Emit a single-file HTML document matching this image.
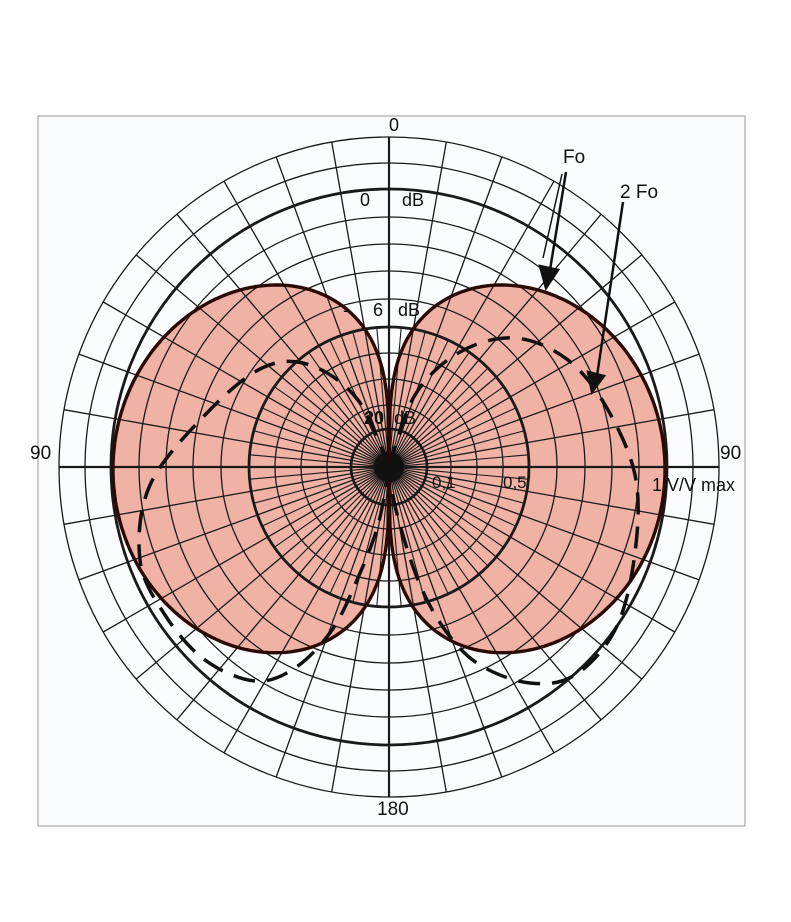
<!DOCTYPE html>
<html><head><meta charset="utf-8"><style>
html,body{margin:0;padding:0;background:#fff;}
svg{display:block;}
text{font-family:"Liberation Sans",sans-serif;fill:#111;}
</style></head><body>
<svg id="s" width="791" height="922" viewBox="0 0 791 922" xmlns="http://www.w3.org/2000/svg">
<rect x="0" y="0" width="791" height="922" fill="#fff"/>
<rect x="38" y="116" width="707" height="710" fill="#fbfcfd" stroke="#999" stroke-width="1"/>
<g id="fill"></g>
<g id="grid" stroke="#1a1a1a" fill="none"></g>
<g id="curves" fill="none"></g>
<g font-size="18">
<text x="389" y="131">0</text>
<text x="360" y="206">0</text><text x="402" y="206">dB</text>
<text x="343" y="316">-</text><text x="373" y="316">6</text><text x="398" y="316">dB</text>
<text x="364" y="424" font-weight="bold">20</text><text x="394" y="424">dB</text>
<text x="30" y="459" font-size="19">90</text>
<text x="720" y="459" font-size="19">90</text>
<text x="432" y="488" font-size="17">0,1</text>
<text x="503" y="488" font-size="17">0,5</text>
<text x="652" y="491" font-size="18">1 V/V max</text>
<text x="377" y="815" font-size="19">180</text>
<text x="563" y="163" font-size="19">Fo</text>
<text x="620" y="198" font-size="19">2 Fo</text>
</g>
<g stroke="#111" stroke-width="2.5" fill="#111">
<line x1="566" y1="172" x2="550" y2="270"/>
<polygon points="540,266 558,270 546,288"/>
<line x1="562" y1="174" x2="543" y2="258" stroke-width="1.5"/>
<line x1="623" y1="202" x2="597" y2="376"/>
<polygon points="588,372 604,376 592,392"/>
</g>
</svg>
<script>
var NS="http://www.w3.org/2000/svg",cx=389,cy=467;
function el(p,t,a){var e=document.createElementNS(NS,t);for(var k in a)e.setAttribute(k,a[k]);p.appendChild(e);return e;}
var g=document.getElementById('grid'),f=document.getElementById('fill'),c=document.getElementById('curves');
function lobe(side){var d="";for(var i=0;i<=180;i++){var t=i*Math.PI/180,s=Math.sin(t),r=276*Math.pow(s,0.38)*(1-0.012*Math.cos(t));var x=cx+side*r*s,y=cy-r*Math.cos(t);d+=(i?"L":"M")+x.toFixed(1)+","+y.toFixed(1);}return d+"Z";}
var L1=lobe(1),L2=lobe(-1);
el(f,'path',{d:L1,fill:'#f0b2a4'});el(f,'path',{d:L2,fill:'#f0b2a4'});
var radii=[38,62,88,114,140,168,196,223,250,278,304,330];
radii.forEach(function(r){var w=(r==38||r==140||r==278)?2.8:1.3;el(g,'circle',{cx:cx,cy:cy,r:r,'stroke-width':w});});
for(var a=0;a<360;a+=10){var t=a*Math.PI/180,s=Math.sin(t),co=Math.cos(t);
 el(g,'line',{x1:cx+12*s,y1:cy-12*co,x2:cx+330*s,y2:cy-330*co,'stroke-width':1.3});}
for(var a=5;a<360;a+=10){var t=a*Math.PI/180,s=Math.sin(t),co=Math.cos(t);
 el(g,'line',{x1:cx+14*s,y1:cy-14*co,x2:cx+140*s,y2:cy-140*co,'stroke-width':1.1});}
el(g,'line',{x1:cx-330,y1:cy,x2:cx+330,y2:cy,'stroke-width':2.2});
el(g,'line',{x1:cx,y1:cy-330,x2:cx,y2:cy+330,'stroke-width':2.2});
el(g,'circle',{cx:cx,cy:cy,r:15,fill:'#111'});
el(c,'path',{d:L1,stroke:'#2a0a05','stroke-width':3.4});
el(c,'path',{d:L2,stroke:'#2a0a05','stroke-width':3.4});
function cr(p){var d="M"+p[0][0]+","+p[0][1];for(var i=0;i<p.length-1;i++){var p0=p[Math.max(i-1,0)],p1=p[i],p2=p[i+1],p3=p[Math.min(i+2,p.length-1)];
 d+="C"+(p1[0]+(p2[0]-p0[0])/6).toFixed(1)+","+(p1[1]+(p2[1]-p0[1])/6).toFixed(1)+" "+(p2[0]-(p3[0]-p1[0])/6).toFixed(1)+","+(p2[1]-(p3[1]-p1[1])/6).toFixed(1)+" "+p2[0]+","+p2[1];}return d;}
var R=[[389,467],[415,395],[460,352],[515,338],[568,360],[608,410],[636,480],[634,560],[615,630],[575,675],[530,683],[480,665],[445,630],[418,580],[396,510],[389,467]];
var Lp=[[389,467],[358,400],[310,365],[262,368],[205,415],[150,485],[140,560],[165,615],[205,660],[255,681],[295,668],[332,630],[357,580],[378,525],[389,467]];
el(c,'path',{d:cr(R),stroke:'#111','stroke-width':3.5,'stroke-dasharray':'22 12'});
el(c,'path',{d:cr(Lp),stroke:'#111','stroke-width':3.5,'stroke-dasharray':'22 12'});
</script>
</body></html>
